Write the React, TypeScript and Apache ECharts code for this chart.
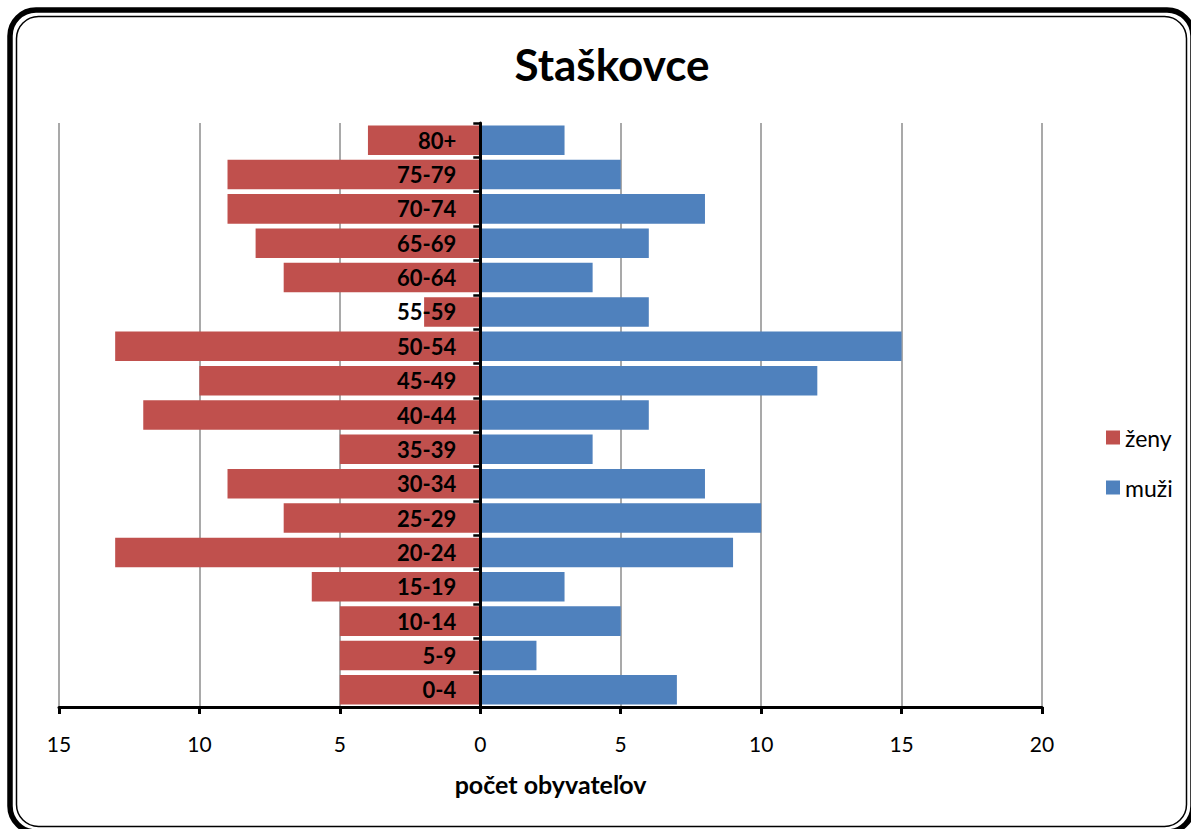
import React, { useEffect, useRef } from "react";
import * as echarts from "echarts";

const categories = ["0-4", "5-9", "10-14", "15-19", "20-24", "25-29", "30-34", "35-39", "40-44", "45-49", "50-54", "55-59", "60-64", "65-69", "70-74", "75-79", "80+"];
const zeny = [5, 5, 5, 6, 13, 7, 9, 5, 12, 10, 13, 2, 7, 8, 9, 9, 4];
const muzi = [7, 2, 5, 3, 9, 10, 8, 4, 6, 12, 15, 6, 4, 6, 8, 5, 3];
const xTicks = { min: -15, max: 20, interval: 5 };
const titleText = "Staškovce";
const axisName = "počet obyvateľov";

const FONT = "Lato, 'Open Sans', sans-serif";

export default function App() {
  const ref = useRef<HTMLDivElement>(null);
  useEffect(() => {
    document.body.style.margin = "0";
    const chart = echarts.init(ref.current!, undefined, { renderer: "svg" });
    const gridLeft = 59;
    const gridRight = 149;
    const plotW = 1191 - gridLeft - gridRight;
    const zeroOffset = ((0 - xTicks.min) / (xTicks.max - xTicks.min)) * plotW;
    chart.setOption({
      animation: false,
      backgroundColor: "#ffffff",
      textStyle: { fontFamily: FONT },
      title: {
        text: titleText,
        left: 607,
        top: 37,
        textAlign: "center",
        textStyle: { fontSize: 44, fontWeight: "bold", color: "#000", fontFamily: FONT },
      },
      legend: {
        orient: "vertical",
        left: 1101,
        top: 421,
        itemWidth: 14,
        itemHeight: 14,
        itemGap: 27,
        icon: "rect",
        textStyle: { fontSize: 23, color: "#000", fontFamily: FONT },
        data: ["ženy", "muži"],
      },
      grid: { left: gridLeft, right: gridRight, top: 123, bottom: 122, containLabel: false, outerBoundsMode: "none" },
      xAxis: {
        type: "value",
        min: xTicks.min,
        max: xTicks.max,
        interval: xTicks.interval,
        name: axisName,
        nameLocation: "middle",
        nameGap: 64,
        nameTextStyle: { fontSize: 25, fontWeight: "bold", color: "#000", fontFamily: FONT },
        axisLine: { show: true, onZero: false, lineStyle: { color: "#000", width: 3 } },
        axisTick: { show: true, length: 7, lineStyle: { color: "#000", width: 3 } },
        axisLabel: {
          fontSize: 21,
          color: "#000",
          margin: 26,
          fontFamily: FONT,
          formatter: (v: number) => String(Math.abs(v)),
        },
        splitLine: { show: true, lineStyle: { color: "#8c8c8c", width: 1.5 } },
      },
      yAxis: {
        type: "category",
        data: categories,
        z: 10,
        offset: -zeroOffset,
        axisLine: { show: true, onZero: false, lineStyle: { color: "#000", width: 3 } },
        axisTick: { show: true, length: 7, lineStyle: { color: "#000", width: 2.5 } },
        axisLabel: {
          fontSize: 22,
          fontWeight: "bold",
          color: "#000",
          margin: 24,
          fontFamily: FONT,
        },
        splitLine: { show: false },
      },
      series: [
        {
          name: "ženy",
          type: "bar",
          stack: "pop",
          barCategoryGap: "14%",
          itemStyle: { color: "#C0504D" },
          data: zeny.map((v) => -v),
        },
        {
          name: "muži",
          type: "bar",
          stack: "pop",
          barCategoryGap: "14%",
          itemStyle: { color: "#4F81BD" },
          data: muzi,
        },
      ],
      graphic: [
        {
          type: "rect",
          shape: { x: 10, y: 10, width: 1183, height: 822, r: 26 },
          style: { fill: "none", stroke: "#000", lineWidth: 5.5 },
          silent: true,
        },
        {
          type: "rect",
          shape: { x: 16.5, y: 16.5, width: 1170, height: 810, r: 22 },
          style: { fill: "none", stroke: "#000", lineWidth: 1.5 },
          silent: true,
        },
      ],
    });
    return () => chart.dispose();
  }, []);
  return <div ref={ref} style={{ position: "fixed", left: 0, top: 0, width: 1191, height: 829 }} />;
}
